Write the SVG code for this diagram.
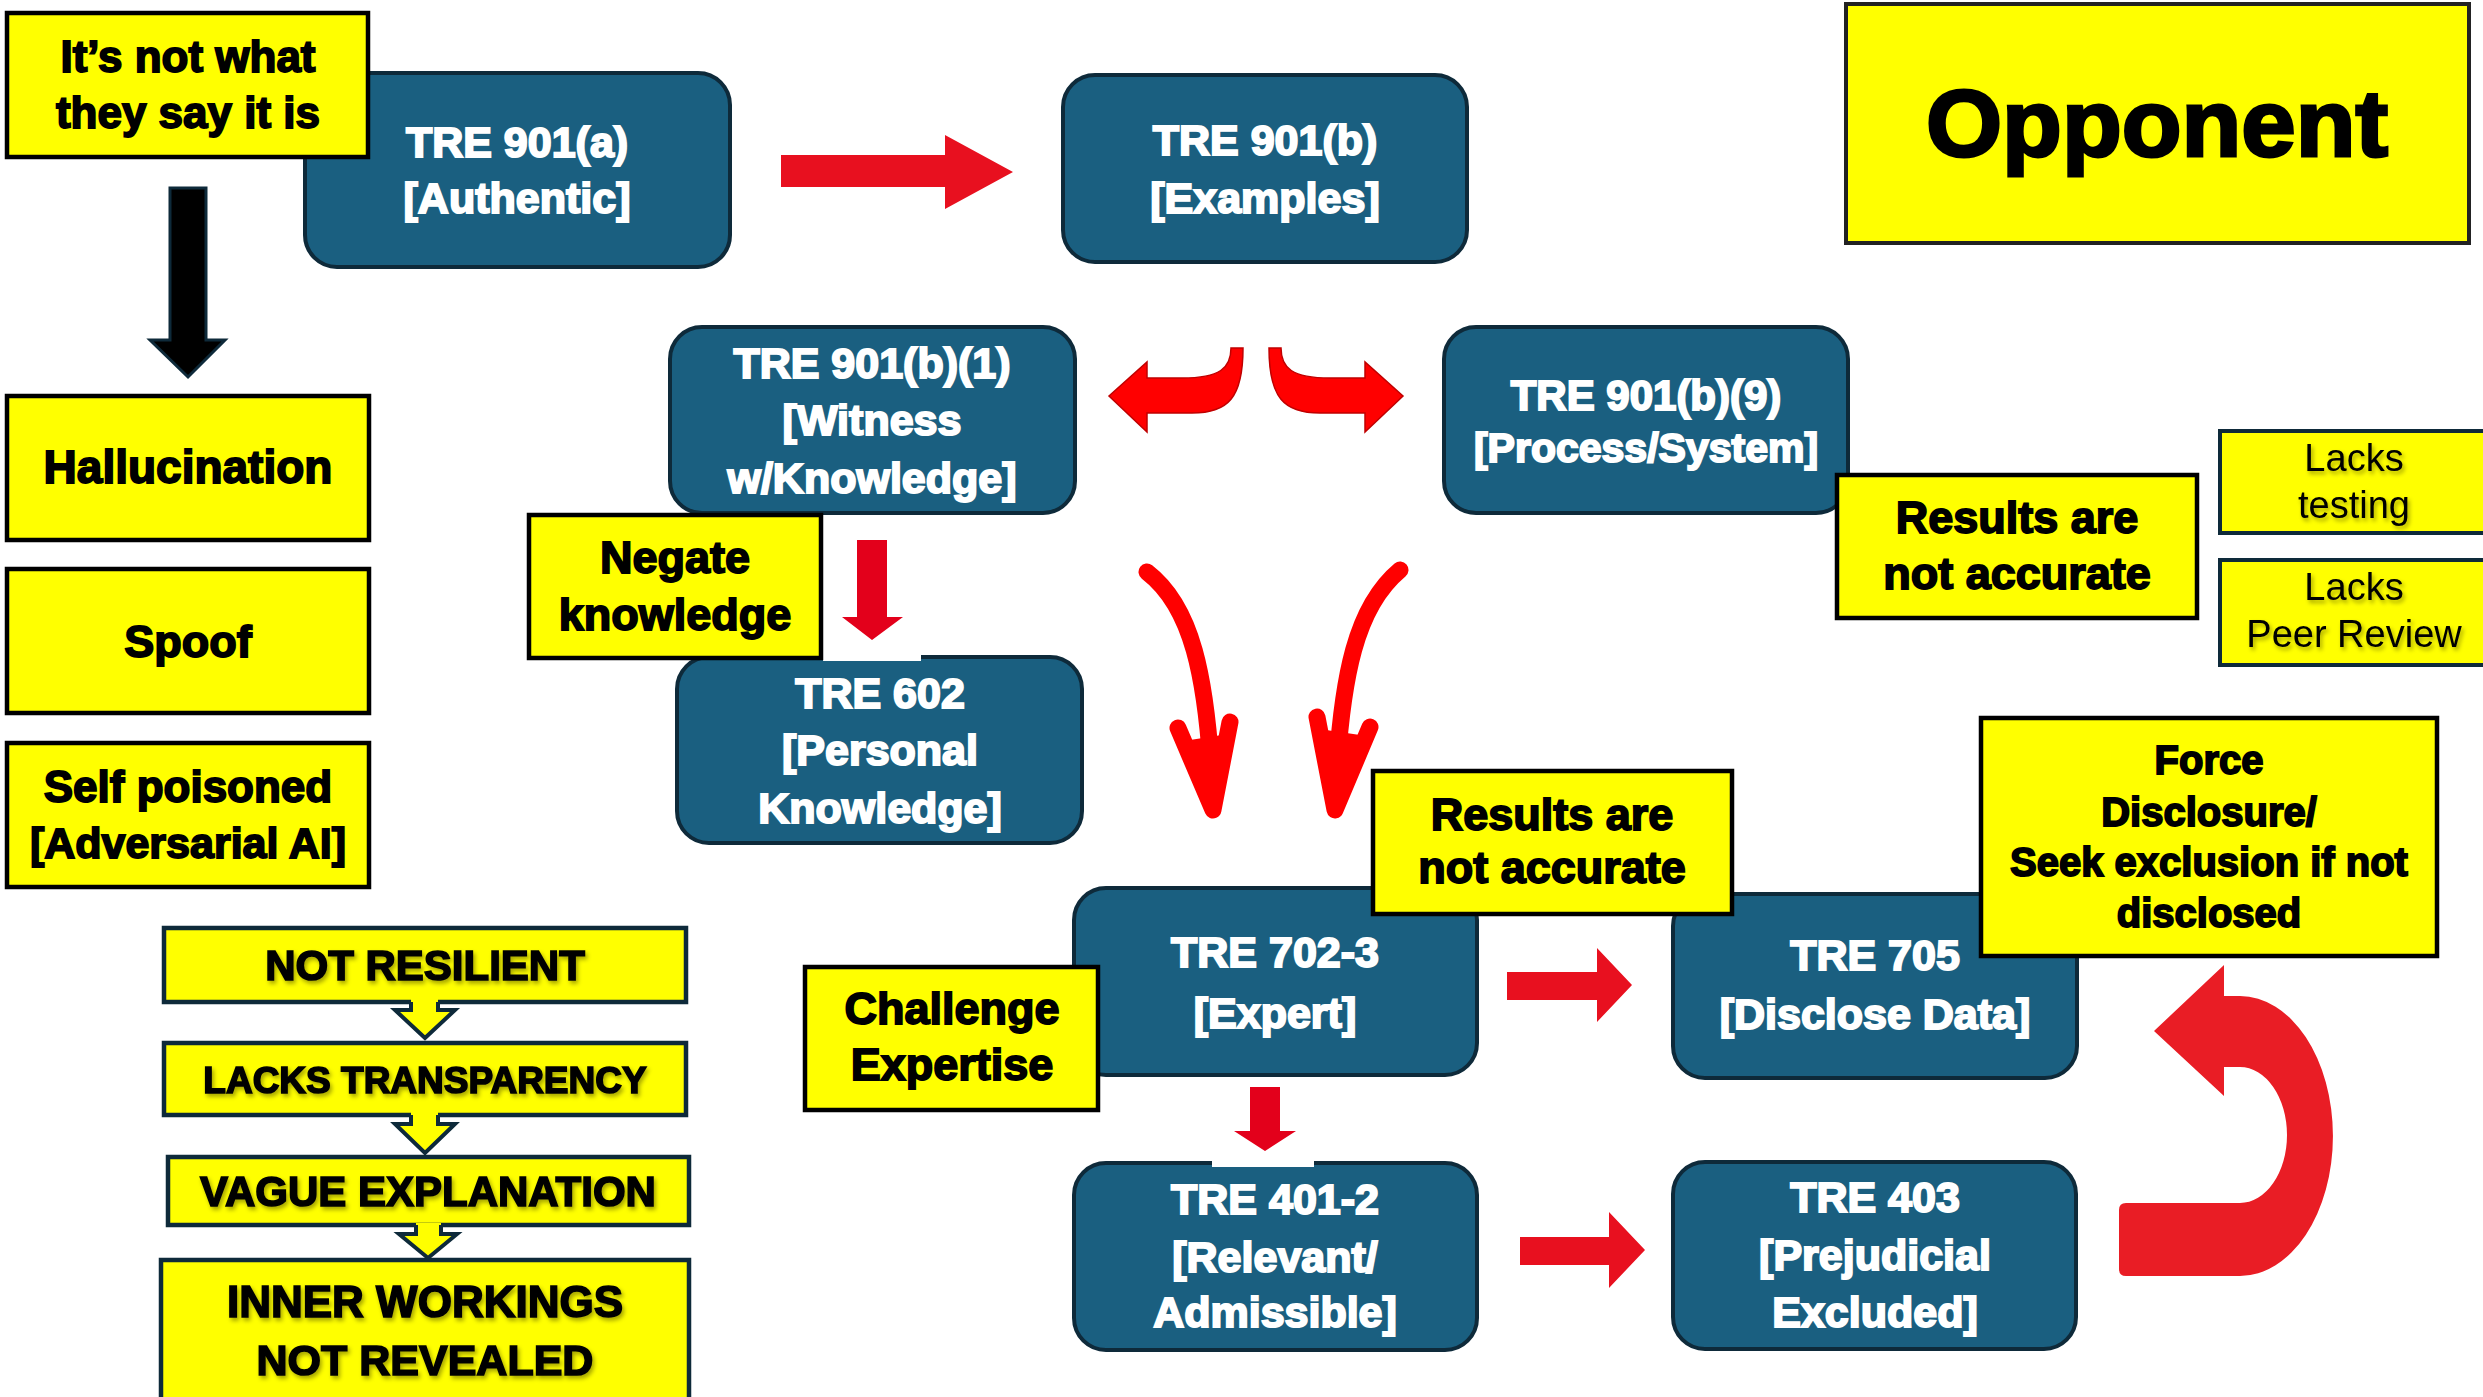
<svg xmlns="http://www.w3.org/2000/svg" width="2483" height="1397" viewBox="0 0 2483 1397">
<defs>
<style>
.tre rect{fill:#1A5F80;stroke:#0E2A3A;stroke-width:4}
.tre text{fill:#fff;stroke:#fff;stroke-width:2;font-family:"Liberation Sans",Arial,sans-serif;font-weight:bold;font-size:43px;text-anchor:middle}
.yb rect{fill:#FFFF00;stroke:#000;stroke-width:4.5}
.yb text{fill:#000;stroke:#000;stroke-width:1.8;font-family:"Liberation Sans",Arial,sans-serif;font-weight:bold;font-size:45px;text-anchor:middle}
.ch rect{fill:#FFFF00;stroke:#0E2A3A;stroke-width:4.5}
.ch text{fill:#000;stroke:#000;stroke-width:1.6;font-family:"Liberation Sans",Arial,sans-serif;font-weight:bold;font-size:42px;text-anchor:middle;filter:url(#sh)}
.lk rect{fill:#FFFF00;stroke:#0E2A3A;stroke-width:4}
.lk text{fill:#000;font-family:"Liberation Sans",Arial,sans-serif;font-size:38px;text-anchor:middle;filter:url(#sh)}
.red{fill:#E8101F}
.redc{fill:none;stroke:#FF0000;stroke-width:17;stroke-linecap:round;stroke-linejoin:round}
.chev{fill:#FFFF00;stroke:none}
.chevs{fill:none;stroke:#0E2A3A;stroke-width:4;stroke-linejoin:miter}
</style>
<filter id="sh" x="-5%" y="-20%" width="110%" height="140%">
<feDropShadow dx="2" dy="3" stdDeviation="2" flood-color="#000" flood-opacity="0.35"/>
</filter>
</defs>
<rect width="2483" height="1397" fill="#fff"/>

<!-- TRE nodes -->
<g id="tre901a" class="tre"><rect x="305" y="73" width="425" height="194" rx="32"/><text x="517" y="157">TRE 901(a)</text><text x="517" y="213">[Authentic]</text></g>
<g id="tre901b" class="tre"><rect x="1063" y="75" width="404" height="187" rx="32"/><text x="1265" y="155">TRE 901(b)</text><text x="1265" y="213">[Examples]</text></g>
<g id="tre901b1" class="tre"><rect x="670" y="327" width="405" height="186" rx="32"/><text x="872" y="378">TRE 901(b)(1)</text><text x="872" y="435">[Witness</text><text x="872" y="493">w/Knowledge]</text></g>
<g id="tre901b9" class="tre"><rect x="1444" y="327" width="404" height="186" rx="32"/><text x="1646" y="410" style="font-size:42px">TRE 901(b)(9)</text><text x="1646" y="462" style="font-size:41px">[Process/System]</text></g>
<g id="tre602" class="tre"><rect x="677" y="657" width="405" height="186" rx="32"/><rect x="823" y="653" width="98" height="8" style="fill:#fff;stroke:none"/><text x="880" y="708">TRE 602</text><text x="880" y="765">[Personal</text><text x="880" y="823">Knowledge]</text></g>
<g id="tre7023" class="tre"><rect x="1074" y="888" width="403" height="187" rx="32"/><text x="1275" y="967">TRE 702-3</text><text x="1275" y="1028">[Expert]</text></g>
<g id="tre705" class="tre"><rect x="1673" y="894" width="404" height="184" rx="32"/><text x="1875" y="970">TRE 705</text><text x="1875" y="1029">[Disclose Data]</text></g>
<g id="tre4012" class="tre"><rect x="1074" y="1163" width="403" height="187" rx="32"/><rect x="1212" y="1159" width="102" height="8" style="fill:#fff;stroke:none"/><text x="1275" y="1214">TRE 401-2</text><text x="1275" y="1272">[Relevant/</text><text x="1275" y="1327">Admissible]</text></g>
<g id="tre403" class="tre"><rect x="1673" y="1162" width="403" height="187" rx="32"/><text x="1875" y="1212">TRE 403</text><text x="1875" y="1270">[Prejudicial</text><text x="1875" y="1327">Excluded]</text></g>

<!-- yellow label nodes -->
<g id="notwhat" class="yb"><rect x="7" y="13" width="361" height="144"/><text x="188" y="72" style="font-size:44px">It’s not what</text><text x="188" y="128" style="font-size:44px">they say it is</text></g>
<g id="halluc" class="yb"><rect x="7" y="396" width="362" height="144"/><text x="188" y="483" style="font-size:46px">Hallucination</text></g>
<g id="spoof" class="yb"><rect x="7" y="569" width="362" height="144"/><text x="188" y="657" style="font-size:45px">Spoof</text></g>
<g id="selfpoison" class="yb"><rect x="7" y="743" width="362" height="144"/><text x="188" y="802" style="font-size:44px">Self poisoned</text><text x="188" y="858" style="font-size:43px">[Adversarial AI]</text></g>
<g id="negate" class="yb"><rect x="529" y="515" width="292" height="143"/><text x="675" y="573">Negate</text><text x="675" y="630">knowledge</text></g>
<g id="challenge" class="yb"><rect x="805" y="967" width="293" height="143"/><text x="952" y="1024">Challenge</text><text x="952" y="1080">Expertise</text></g>
<g id="results1" class="yb"><rect x="1373" y="771" width="359" height="143"/><text x="1552" y="830">Results are</text><text x="1552" y="883">not accurate</text></g>
<g id="results2" class="yb"><rect x="1837" y="475" width="360" height="143"/><text x="2017" y="533">Results are</text><text x="2017" y="589">not accurate</text></g>
<g id="force" class="yb"><rect x="1981" y="718" width="456" height="238"/><text x="2209" y="774" style="font-size:40px">Force</text><text x="2209" y="826" style="font-size:40px">Disclosure/</text><text x="2209" y="876" style="font-size:40px">Seek exclusion if not</text><text x="2209" y="927" style="font-size:40px">disclosed</text></g>
<g id="opponent" class="yb"><rect x="1846" y="4" width="623" height="239" style="stroke:#222;stroke-width:4"/><text x="2157" y="156" textLength="462" lengthAdjust="spacingAndGlyphs" style="font-size:95px;stroke-width:3">Opponent</text></g>
<g id="lackstesting" class="lk"><rect x="2220" y="431" width="266" height="102"/><text x="2354" y="471">Lacks</text><text x="2354" y="518">testing</text></g>
<g id="lackspeer" class="lk"><rect x="2220" y="560" width="266" height="105"/><text x="2354" y="600">Lacks</text><text x="2354" y="647">Peer Review</text></g>

<!-- chain nodes -->
<g id="notresilient" class="ch"><rect x="164" y="928" width="522" height="74"/><text x="425" y="980">NOT RESILIENT</text></g>
<g id="lackstransp" class="ch"><rect x="164" y="1043" width="522" height="72"/><text x="425" y="1093" style="font-size:37px">LACKS TRANSPARENCY</text></g>
<g id="vague" class="ch"><rect x="168" y="1157" width="521" height="68"/><text x="428" y="1206">VAGUE EXPLANATION</text></g>
<g id="inner" class="ch"><rect x="161" y="1260" width="528" height="150"/><text x="425" y="1317" style="font-size:44px">INNER WORKINGS</text><text x="425" y="1375" style="font-size:43px">NOT REVEALED</text></g>

<!-- connectors -->
<g id="connectors">
<path d="M170,188 L206,188 L206,340 L225,340 L188,377 L150,340 L170,340 Z" fill="#000" stroke="#0E2A3A" stroke-width="3"/>
<path class="red" d="M781,155 L945,155 L945,135 L1013,172 L945,209 L945,187 L781,187 Z"/>
<path d="M1243,348 C1243,398 1228,413 1192,413 L1147,413 L1147,432 L1109,396 L1147,362 L1147,378 L1182,378 C1220,378 1231,368 1231,348 Z" fill="#FF0000" stroke="#C00000" stroke-width="1.5"/>
<path d="M1269,348 C1269,398 1284,413 1320,413 L1365,413 L1365,432 L1403,396 L1365,362 L1365,378 L1330,378 C1292,378 1281,368 1281,348 Z" fill="#FF0000" stroke="#C00000" stroke-width="1.5"/>
<path d="M857,540 L887,540 L887,617 L903,617 L872,640 L842,617 L857,617 Z" fill="#E3001B"/>
<path class="redc" d="M1147,572 C1190,605 1208,670 1213,805"/>
<path class="redc" d="M1178,728 L1213,810 L1230,722"/>
<path d="M1190,740 L1213,810 L1222,735 Z" fill="#FF0000"/>
<path class="redc" d="M1400,570 C1358,605 1340,670 1335,805"/>
<path class="redc" d="M1317,717 L1335,810 L1370,727"/>
<path d="M1326,730 L1335,810 L1360,735 Z" fill="#FF0000"/>
<path class="red" d="M1507,972 L1597,972 L1597,948 L1632,985 L1597,1022 L1597,1000 L1507,1000 Z"/>
<path d="M1250,1087 L1280,1087 L1280,1131 L1296,1131 L1265,1151 L1234,1131 L1250,1131 Z" fill="#E3001B"/>
<path class="red" d="M1520,1237 L1609,1237 L1609,1212 L1645,1250 L1609,1288 L1609,1265 L1520,1265 Z"/>
<path d="M2126,1203 L2240,1203 A47,68 0 0 0 2240,1067 L2224,1067 L2224,1096 L2154,1031 L2224,965 L2224,996 L2240,996 A93,140 0 0 1 2240,1276 L2126,1276 Q2119,1276 2119,1269 L2119,1210 Q2119,1203 2126,1203 Z" fill="#E91D25"/>
<path class="chev" d="M411,998 L438,998 L438,1010 L455,1010 L425,1038 L395,1010 L411,1010 Z"/>
<path class="chevs" d="M411,1002 L411,1010 L395,1010 L425,1038 L455,1010 L438,1010 L438,1002"/>
<path class="chev" d="M411,1111 L438,1111 L438,1124 L455,1124 L425,1153 L395,1124 L411,1124 Z"/>
<path class="chevs" d="M411,1115 L411,1124 L395,1124 L425,1153 L455,1124 L438,1124 L438,1115"/>
<path class="chev" d="M416,1223 L441,1223 L441,1234 L457,1234 L428,1258 L399,1234 L416,1234 Z"/>
<path class="chevs" d="M416,1225 L416,1234 L399,1234 L428,1258 L457,1234 L441,1234 L441,1225"/>
</g>
</svg>
